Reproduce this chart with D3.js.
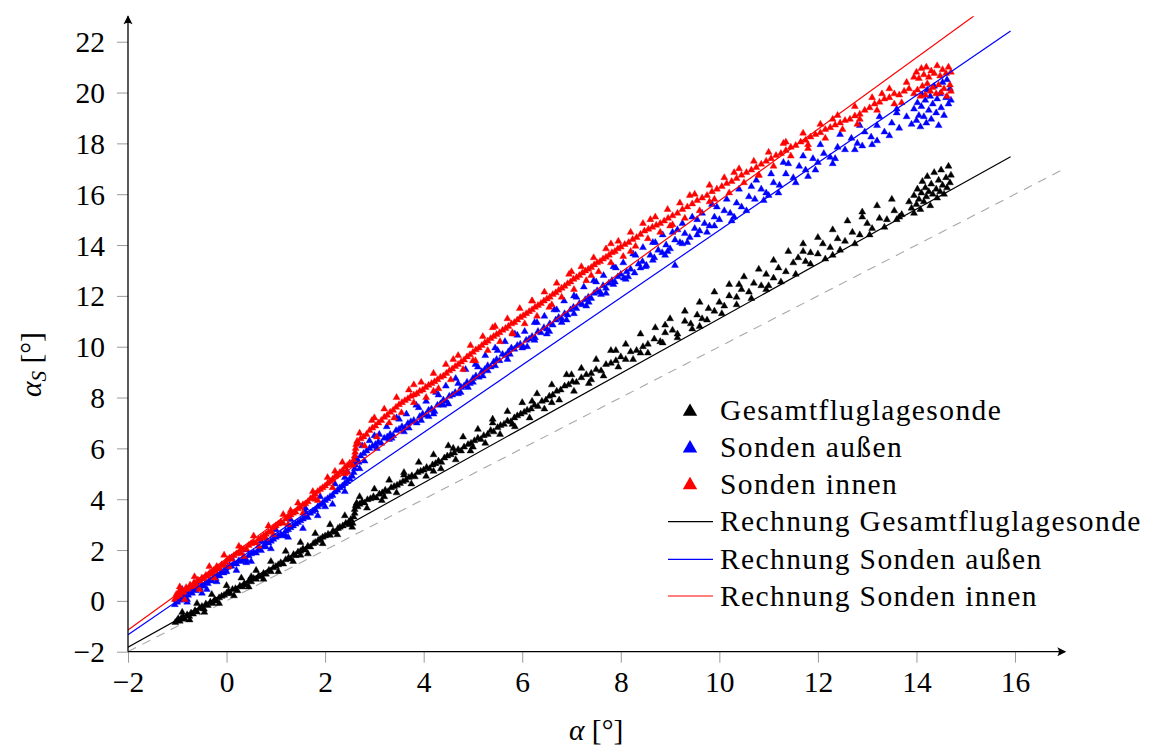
<!DOCTYPE html>
<html>
<head>
<meta charset="utf-8">
<script src="https://cdn.jsdelivr.net/npm/d3@7"></script>
<style>
  body { margin: 0; background: #fff; }
  text { font-family: "Liberation Serif", "DejaVu Serif", serif; }
</style>
</head>
<body>
<svg id="chart" width="1150" height="749"></svg>
<script>
   // ticks and labels
   const xTicks = [-2, 0, 2, 4, 6, 8, 10, 12, 14, 16];
   const yTicks = [-2, 0, 2, 4, 6, 8, 10, 12, 14, 16, 18, 20, 22];
   const legendLabels = ["Gesamtfluglagesonde", "Sonden außen", "Sonden innen",
      "Rechnung Gesamtfluglagesonde", "Rechnung Sonden außen", "Rechnung Sonden innen"];

   const gesamtPts = [
      [-1.04,-0.85],[-1.0,-0.78],[-0.98,-0.70],[-0.95,-0.80],[-0.92,-0.68],[-0.88,-0.62],[-0.85,-0.72],[-0.8,-0.55],
      [-0.76,-0.60],[-0.72,-0.48],[-0.68,-0.52],[-0.64,-0.38],[-0.6,-0.44],[-0.55,-0.30],[-0.5,-0.22],[-0.46,-0.32],
      [-0.42,-0.12],[-0.38,-0.18],[-0.33,-0.05],[-0.28,-0.10],[-0.24,0.05],[-0.2,0.0],[-0.15,0.12],[-0.1,0.18],
      [-0.05,0.22],[0.0,0.30],[0.04,0.38],[0.08,0.28],[0.12,0.45],[0.18,0.48],[0.22,0.40],[0.27,0.58],[0.32,0.55],
      [0.36,0.68],[0.4,0.62],[0.45,0.78],[0.5,0.75],[0.55,0.88],[0.6,0.85],[0.65,0.98],[0.7,0.95],[0.75,1.08],
      [0.8,1.05],[0.86,1.20],[0.9,1.15],[0.95,1.30],[1.0,1.35],[1.05,1.42],[1.1,1.50],[1.15,1.45],[1.2,1.62],
      [1.26,1.70],[1.3,1.65],[1.36,1.82],[1.4,1.78],[1.45,1.92],[1.5,1.95],[1.55,2.05],[1.6,2.0],[1.65,2.15],
      [1.7,2.12],[1.76,2.25],[1.8,2.30],[1.86,2.38],[1.9,2.42],[1.95,2.50],[2.0,2.55],[2.06,2.62],[2.1,2.58],
      [2.16,2.75],[2.2,2.70],[2.26,2.85],[2.3,2.90],[2.36,2.95],[2.42,3.05],[2.48,3.10],[2.52,3.20],[2.56,3.05],
      [2.58,3.30],[2.6,3.45],[2.6,3.60],[2.62,3.75],[2.64,3.85],[2.66,3.70],[2.7,3.80],[2.75,3.90],[2.8,3.85],
      [2.86,3.98],[2.92,4.02],[2.98,4.10],[3.04,4.05],[3.1,4.20],[3.16,4.25],[3.22,4.35],[3.28,4.30],[3.34,4.45],
      [3.4,4.50],[3.46,4.55],[3.52,4.62],[3.58,4.70],[3.64,4.75],[3.7,4.85],[3.76,4.92],[3.82,4.88],[3.88,5.05],
      [3.94,5.10],[4.0,5.15],[4.06,5.25],[4.12,5.20],[4.18,5.35],[4.24,5.40],[4.3,5.50],[4.36,5.45],[4.42,5.62],
      [4.48,5.70],[4.55,5.75],[4.62,5.82],[4.7,5.95],[4.76,5.90],[4.82,6.05],[4.9,6.15],[4.96,6.20],[5.03,6.30],
      [5.1,6.40],[5.16,6.35],[5.22,6.50],[5.3,6.55],[5.36,6.70],[5.42,6.65],[5.5,6.82],[5.56,6.90],[5.63,6.95],
      [5.7,7.08],[5.77,7.05],[5.84,7.20],[5.9,7.28],[5.97,7.35],[6.04,7.42],[6.1,7.50],[6.18,7.55],[6.25,7.70],
      [6.32,7.65],[6.4,7.85],[6.48,7.90],[6.55,8.05],[6.62,8.10],[6.7,8.25],[6.78,8.30],[6.86,8.45],[6.94,8.50],
      [7.02,8.62],[7.1,8.60],[7.2,8.78],[7.3,8.90],[7.4,8.95],[7.5,9.10],[7.6,9.05],[7.7,9.30],[7.8,9.35],
      [7.9,9.45],[8.0,9.60],[8.1,9.50],[8.2,9.80],[8.32,9.85],[8.45,10.0],[8.55,10.10],[8.68,10.30],[8.8,10.20],
      [8.9,10.55],[9.05,10.65],[9.15,10.50],[9.3,11.0],[9.42,10.90],[9.55,11.25],[9.65,11.10],[9.78,11.50],
      [9.9,11.40],[10.0,11.75],[10.1,11.60],[10.2,12.0],[10.35,11.95],[10.45,12.25],[10.6,12.15],[10.7,12.50],
      [10.85,12.40],[10.95,12.85],[11.1,12.70],[11.2,13.10],[11.35,12.95],[11.5,13.30],[11.6,13.50],[11.75,13.35],
      [11.85,13.70],[12.0,13.65],[12.1,14.05],[12.25,13.90],[12.4,14.25],[12.55,14.15],[12.7,14.50],[12.85,14.40],
      [13.0,14.85],[13.1,14.65],[13.25,15.05],[13.4,15.0],[13.55,15.35],[13.7,15.20],[13.85,15.70],[13.9,15.45],
      [13.95,15.95],[14.0,15.60],[14.02,16.20],[14.05,15.80],[14.08,15.40],[14.1,16.05],[14.12,16.50],[14.15,15.70],
      [14.18,16.25],[14.2,15.90],[14.22,16.70],[14.25,16.10],[14.28,15.55],[14.3,16.40],[14.33,16.0],[14.36,16.85],
      [14.4,16.20],[14.42,15.85],[14.45,16.55],[14.48,16.10],[14.5,16.95],[14.53,16.35],[14.56,16.0],[14.6,16.65],
      [14.62,16.25],[14.65,17.10],[14.68,16.45],[14.7,16.75],
      [0.5,0.95],[1.5,1.8],[2.5,3.0],[3.2,4.1],[3.6,4.95],[4.2,5.1],[4.6,6.0],[5.0,6.05],[5.4,7.0],[5.8,6.95],
      [6.2,7.85],[6.6,7.8],[7.0,8.9],[7.4,8.7],[7.9,9.85],[8.4,9.75],[8.9,10.85],[9.6,10.8],[10.4,12.45],
      [11.0,12.4],[11.7,13.75],[12.3,13.6],[12.9,15.1],[13.6,15.0],
      [-0.9,-0.45],[-0.6,-0.1],[-0.3,0.25],[0.0,0.6],[0.3,0.9],[0.6,1.2],[0.9,1.55],[1.2,1.95],[1.5,2.3],
      [1.8,2.65],[2.1,3.0],[2.4,3.35],[2.7,4.1],[3.0,4.4],[3.3,4.75],[3.6,5.05],[3.9,5.45],[4.2,5.75],[4.5,6.1],
      [4.8,6.45],[5.1,6.75],[5.4,7.15],[5.7,7.45],[6.0,7.8],[6.3,8.15],[6.6,8.5],[6.9,8.9],[7.2,9.15],[7.5,9.5],
      [7.8,9.85],[8.1,10.1],[8.4,10.5],[8.7,10.75],[9.0,11.1],[9.3,11.4],[9.6,11.75],[9.9,12.15],[10.2,12.45],
      [10.5,12.75],[10.8,13.05],[11.1,13.4],[11.4,13.75],[11.7,14.05],[12.0,14.3],[12.3,14.6],[12.6,14.95],
      [12.9,15.3],[13.2,15.55],[13.5,15.8],
      [-0.75,-0.75],[-0.45,-0.45],[-0.15,-0.1],[0.15,0.2],[0.45,0.55],[0.75,0.85],[1.05,1.15],[1.35,1.55],
      [1.65,1.85],[1.95,2.25],[2.25,2.6],[2.55,2.9],[2.85,3.65],[3.15,3.95],[3.45,4.25],[3.75,4.6],[4.05,4.9],
      [4.35,5.2],[4.65,5.55],[4.95,5.9],[5.25,6.2],[5.55,6.55],[5.85,6.85],[6.15,7.2],[6.45,7.55],[6.75,7.9],
      [7.05,8.25],[7.35,8.55],[7.65,8.85],[7.95,9.2],[8.25,9.5],[8.55,9.75],[8.85,10.15],[9.15,10.35],
      [9.45,10.7],[9.75,11.05],[10.05,11.3],[10.35,11.65],[10.65,11.9],[10.95,12.25],[11.25,12.55],[11.55,12.85],
      [11.85,13.25],[12.15,13.45],[12.45,13.8],[12.75,14.05],[13.05,14.4],[13.35,14.7],[13.65,15.1],[13.95,15.25]
   ];

   const aussenPts = [
      [-1.05,-0.15],[-1.02,0.05],[-1.0,-0.05],[-0.97,0.15],[-0.94,0.02],[-0.9,0.20],[-0.86,0.10],[-0.82,0.28],
      [-0.78,0.22],[-0.74,0.38],[-0.7,0.30],[-0.66,0.45],[-0.62,0.40],[-0.58,0.55],[-0.54,0.50],[-0.5,0.62],
      [-0.46,0.58],[-0.42,0.72],[-0.38,0.68],[-0.34,0.82],[-0.3,0.78],[-0.26,0.92],[-0.22,0.88],[-0.18,1.02],
      [-0.14,0.98],[-0.1,1.15],[-0.06,1.10],[-0.02,1.28],[0.02,1.32],[0.06,1.40],[0.1,1.36],[0.15,1.48],
      [0.2,1.45],[0.25,1.58],[0.3,1.55],[0.35,1.66],[0.4,1.62],[0.45,1.78],[0.5,1.85],[0.55,1.90],[0.6,1.88],
      [0.65,2.02],[0.7,1.98],[0.75,2.15],[0.8,2.12],[0.85,2.28],[0.9,2.35],[0.95,2.42],[1.0,2.50],[1.05,2.55],
      [1.1,2.62],[1.15,2.58],[1.2,2.75],[1.25,2.80],[1.3,2.88],[1.35,2.95],[1.4,3.02],[1.45,3.08],[1.5,3.15],
      [1.55,3.22],[1.6,3.30],[1.65,3.28],[1.7,3.45],[1.75,3.52],[1.8,3.58],[1.85,3.70],[1.9,3.78],[1.95,3.85],
      [2.0,3.95],[2.05,4.02],[2.1,4.10],[2.15,4.15],[2.2,4.28],[2.25,4.35],[2.3,4.45],[2.35,4.52],[2.4,4.62],
      [2.45,4.70],[2.5,4.80],[2.55,4.90],[2.58,5.05],[2.6,5.20],[2.61,5.35],[2.62,5.50],[2.64,5.60],[2.68,5.45],
      [2.72,5.70],[2.78,5.80],[2.84,5.90],[2.9,6.00],[2.96,6.08],[3.02,6.15],[3.08,6.25],[3.14,6.20],[3.2,6.40],
      [3.26,6.45],[3.32,6.55],[3.38,6.50],[3.44,6.70],[3.5,6.75],[3.56,6.85],[3.62,6.80],[3.68,6.98],[3.74,7.05],
      [3.8,7.10],[3.86,7.0],[3.92,7.25],[3.98,7.35],[4.04,7.30],[4.1,7.50],[4.16,7.55],[4.22,7.45],[4.28,7.70],
      [4.34,7.75],[4.4,7.90],[4.46,7.85],[4.52,8.05],[4.58,8.10],[4.64,8.20],[4.7,8.15],[4.76,8.40],[4.82,8.45],
      [4.88,8.60],[4.94,8.55],[5.0,8.75],[5.06,8.85],[5.12,8.80],[5.18,9.02],[5.24,9.10],[5.3,9.25],[5.36,9.20],
      [5.42,9.40],[5.48,9.50],[5.54,9.45],[5.6,9.70],[5.66,9.65],[5.72,9.80],[5.78,9.95],[5.84,9.90],[5.9,10.05],
      [5.96,10.10],[6.02,10.0],[6.08,10.25],[6.14,10.30],[6.2,10.40],[6.26,10.35],[6.32,10.60],[6.38,10.55],
      [6.44,10.75],[6.5,10.70],[6.56,10.90],[6.62,10.85],[6.68,11.05],[6.74,11.15],[6.8,11.10],[6.86,11.30],
      [6.92,11.25],[6.98,11.45],[7.04,11.55],[7.1,11.50],[7.16,11.70],[7.22,11.65],[7.28,11.85],[7.34,11.95],
      [7.4,11.90],[7.46,12.10],[7.52,12.20],[7.58,12.15],[7.64,12.40],[7.7,12.30],[7.76,12.50],[7.82,12.60],
      [7.88,12.55],[7.94,12.75],[8.0,12.85],[8.06,12.70],[8.12,12.95],[8.2,13.05],[8.28,12.90],[8.36,13.25],
      [8.44,13.35],[8.52,13.20],[8.6,13.60],[8.68,13.50],[8.76,13.80],[8.84,13.70],[8.92,14.0],[9.0,13.85],
      [9.1,14.20],[9.2,14.10],[9.3,14.45],[9.4,14.30],[9.5,14.65],[9.6,14.55],[9.7,14.85],[9.8,14.75],
      [9.9,15.10],[10.0,15.0],[10.1,15.35],[10.22,15.25],[10.35,15.65],[10.45,15.50],[10.6,15.90],[10.72,15.80],
      [10.85,16.20],[10.95,16.05],[11.1,16.45],[11.22,16.35],[11.35,16.80],[11.5,16.65],[11.62,17.10],[11.75,16.95],
      [11.9,17.40],[12.0,17.25],[12.12,17.60],[12.25,17.45],[12.4,17.85],[12.55,17.75],[12.68,18.20],[12.8,18.0],
      [12.95,18.45],[13.08,18.25],[13.2,18.70],[13.35,18.45],[13.5,18.80],[13.65,18.60],[13.8,19.05],[13.9,18.75],
      [13.95,19.35],[14.0,18.90],[14.02,19.60],[14.05,19.10],[14.08,18.65],[14.1,19.45],[14.12,19.90],[14.15,19.05],
      [14.18,19.70],[14.2,18.80],[14.22,20.10],[14.25,19.30],[14.28,19.85],[14.3,18.95],[14.33,19.55],[14.36,20.25],
      [14.4,19.20],[14.42,19.75],[14.45,18.70],[14.48,19.95],[14.5,19.40],[14.53,20.40],[14.56,19.10],[14.6,19.80],
      [14.62,20.50],[14.65,19.55],[14.68,20.15],[14.7,19.70],
      [3.1,6.55],[3.3,6.35],[3.5,7.15],[3.7,6.8],[3.9,7.6],[4.1,7.25],[4.3,8.1],[4.5,7.75],[4.7,8.55],[4.9,8.4],
      [5.1,9.2],[5.3,9.05],[5.5,9.85],[5.7,9.5],[5.9,10.45],[6.1,10.0],[6.3,10.95],[6.5,10.5],[6.7,11.45],
      [6.9,11.05],[7.1,11.95],[7.3,11.6],[7.5,12.55],[7.7,12.1],[7.9,13.1],[8.1,12.65],[8.3,13.6],[8.5,13.15],
      [8.7,14.1],[8.9,13.6],[9.15,14.6],[9.35,14.1],[9.55,15.0],[9.75,14.5],[9.95,15.5],[10.3,15.1],
      [10.65,16.3],[11.0,15.95],[11.4,17.2],[11.8,16.7],[12.3,17.2],[12.9,17.9],[13.2,18.1],[13.6,19.2],
      [-0.8,0.05],[-0.4,0.45],[0.0,1.15],[0.4,1.5],[0.8,2.3],[1.2,2.55],[1.6,3.5],[2.0,3.7],[2.4,4.85],
      [2.7,5.2],[2.9,6.3],
      [-0.9,0.45],[-0.6,0.75],[-0.3,1.1],[0.1,1.7],[0.4,2.0],[0.7,2.35],[1.0,2.8],[1.3,3.2],[1.6,3.65],
      [1.9,4.1],[2.2,4.6],[2.45,5.1],[2.75,6.1],[3.0,6.5],[3.25,6.85],[3.45,7.2],[3.65,7.35],[3.85,7.7],
      [4.05,7.85],[4.25,8.2],[4.45,8.45],[4.65,8.75],[4.85,9.1],[5.05,9.3],[5.25,9.65],[5.45,9.95],[5.65,10.2],
      [5.85,10.5],[6.05,10.6],[6.25,10.95],[6.45,11.2],[6.65,11.45],[6.85,11.8],[7.05,12.0],[7.25,12.35],
      [7.45,12.6],[7.65,12.8],[7.85,13.15],[8.05,13.3],[8.25,13.65],[8.45,13.9],[8.65,14.1],[8.85,14.4],
      [9.05,14.5],[9.25,14.85],[9.45,15.1],[9.65,15.25],[9.85,15.6],[10.15,15.8],[10.4,16.2],[10.75,16.55],
      [11.05,16.8],[11.3,17.25],[11.7,17.5],[12.05,17.95],[12.45,18.35],[12.85,18.7],[13.25,19.05],[13.6,19.35],
      [-0.8,-0.05],[-0.5,0.3],[-0.2,0.75],[0.2,1.2],[0.5,1.55],[0.9,2.05],[1.25,2.5],[1.55,2.85],[1.85,3.35],
      [2.15,3.8],[2.4,4.3],[2.8,5.5],[3.05,6.0],[3.35,6.4],[3.6,6.65],[3.95,7.1],[4.2,7.35],[4.4,7.7],
      [4.75,8.2],[5.0,8.6],[5.2,8.85],[5.45,9.25],[5.75,9.7],[6.0,9.95],[6.25,10.25],[6.55,10.6],[6.8,10.95],
      [7.05,11.3],[7.35,11.75],[7.6,12.05],[7.85,12.45],[8.15,12.75],[8.4,13.1],[8.65,13.4],[8.95,13.75],
      [9.25,14.05],[9.55,14.4],[9.9,14.75],[10.25,14.95],[10.55,15.35],[10.9,15.75],[11.2,16.05],[11.55,16.45],
      [11.95,16.95],[12.35,17.4],[12.75,17.75],[13.1,17.95],[13.45,18.3],[9.1,13.2]
   ];

   const innenPts = [
      [-1.05,0.05],[-1.02,0.25],[-1.0,0.15],[-0.97,0.35],[-0.94,0.22],[-0.9,0.42],[-0.86,0.32],[-0.82,0.52],
      [-0.78,0.45],[-0.74,0.62],[-0.7,0.55],[-0.66,0.72],[-0.62,0.66],[-0.58,0.82],[-0.54,0.78],[-0.5,0.90],
      [-0.46,0.86],[-0.42,1.0],[-0.38,0.96],[-0.34,1.10],[-0.3,1.05],[-0.26,1.20],[-0.22,1.15],[-0.18,1.30],
      [-0.14,1.25],[-0.1,1.42],[-0.06,1.38],[-0.02,1.52],[0.02,1.62],[0.06,1.68],[0.1,1.64],[0.15,1.78],
      [0.2,1.85],[0.25,1.90],[0.3,1.86],[0.35,2.02],[0.4,2.05],[0.45,2.18],[0.5,2.25],[0.55,2.30],[0.6,2.28],
      [0.65,2.42],[0.7,2.48],[0.75,2.55],[0.8,2.62],[0.85,2.70],[0.9,2.75],[0.95,2.88],[1.0,2.95],[1.05,3.02],
      [1.1,3.10],[1.15,3.05],[1.2,3.22],[1.25,3.30],[1.3,3.38],[1.35,3.45],[1.4,3.50],[1.45,3.62],[1.5,3.68],
      [1.55,3.78],[1.6,3.82],[1.65,3.90],[1.7,4.02],[1.75,4.08],[1.8,4.20],[1.85,4.30],[1.9,4.38],[1.95,4.45],
      [2.0,4.52],[2.05,4.62],[2.1,4.70],[2.15,4.78],[2.2,4.88],[2.25,4.95],[2.3,5.05],[2.35,5.12],[2.4,5.25],
      [2.45,5.32],[2.5,5.42],[2.55,5.35],[2.58,5.55],[2.6,5.70],[2.61,5.85],[2.62,6.0],[2.63,6.15],[2.65,6.28],
      [2.68,6.20],[2.72,6.38],[2.78,6.45],[2.84,6.55],[2.9,6.70],[2.96,6.80],[3.02,6.88],[3.08,7.0],[3.14,7.10],
      [3.2,7.22],[3.26,7.30],[3.32,7.42],[3.38,7.50],[3.44,7.62],[3.5,7.72],[3.56,7.80],[3.62,7.88],[3.68,7.95],
      [3.74,8.05],[3.8,8.10],[3.86,8.15],[3.92,8.25],[3.98,8.30],[4.04,8.40],[4.1,8.48],[4.16,8.55],[4.22,8.62],
      [4.28,8.70],[4.34,8.80],[4.4,8.85],[4.46,8.95],[4.52,9.05],[4.58,9.12],[4.64,9.22],[4.7,9.30],[4.76,9.40],
      [4.82,9.48],[4.88,9.60],[4.94,9.68],[5.0,9.78],[5.06,9.88],[5.12,9.95],[5.18,10.05],[5.24,10.15],[5.3,10.22],
      [5.36,10.32],[5.42,10.40],[5.48,10.48],[5.54,10.55],[5.6,10.65],[5.66,10.72],[5.72,10.80],[5.78,10.90],
      [5.84,10.95],[5.9,11.05],[5.96,11.15],[6.02,11.22],[6.08,11.30],[6.14,11.38],[6.2,11.45],[6.26,11.55],
      [6.32,11.62],[6.38,11.70],[6.44,11.80],[6.5,11.88],[6.56,11.95],[6.62,12.05],[6.68,12.12],[6.74,12.22],
      [6.8,12.30],[6.86,12.38],[6.92,12.48],[6.98,12.55],[7.04,12.65],[7.1,12.72],[7.16,12.80],[7.22,12.90],
      [7.28,12.98],[7.34,13.05],[7.4,13.12],[7.46,13.22],[7.52,13.30],[7.58,13.35],[7.64,13.45],[7.7,13.52],
      [7.76,13.60],[7.82,13.70],[7.88,13.75],[7.94,13.85],[8.0,13.92],[8.08,14.02],[8.16,14.10],[8.24,14.22],
      [8.32,14.30],[8.4,14.42],[8.48,14.55],[8.56,14.62],[8.64,14.70],[8.72,14.78],[8.8,14.85],[8.88,14.95],
      [8.96,15.05],[9.05,15.15],[9.15,15.25],[9.25,15.40],[9.35,15.50],[9.45,15.62],[9.55,15.75],[9.65,15.85],
      [9.75,15.95],[9.85,16.10],[9.95,16.20],[10.05,16.30],[10.15,16.42],[10.25,16.50],[10.35,16.62],[10.45,16.75],
      [10.55,16.85],[10.65,16.95],[10.75,17.05],[10.85,17.18],[10.95,17.30],[11.05,17.40],[11.15,17.52],[11.25,17.60],
      [11.35,17.72],[11.45,17.85],[11.55,17.92],[11.65,18.05],[11.75,18.12],[11.85,18.25],[11.95,18.35],[12.05,18.42],
      [12.15,18.55],[12.25,18.62],[12.35,18.72],[12.45,18.80],[12.55,18.90],[12.65,18.95],[12.75,19.08],[12.85,19.15],
      [12.95,19.30],[13.05,19.40],[13.15,19.55],[13.25,19.62],[13.35,19.75],[13.45,19.80],[13.55,19.95],[13.65,19.90],
      [13.75,20.05],[13.85,20.15],[13.95,20.60],[13.95,19.95],[14.0,20.80],[14.02,20.10],[14.05,20.55],[14.08,19.85],
      [14.1,20.95],[14.12,20.25],[14.15,20.70],[14.18,19.90],[14.2,21.0],[14.22,20.35],[14.25,20.60],[14.28,20.05],
      [14.3,20.85],[14.33,20.20],[14.36,20.75],[14.4,19.95],[14.42,21.05],[14.45,20.30],[14.48,20.65],[14.5,20.0],
      [14.53,20.90],[14.56,20.15],[14.6,20.75],[14.62,19.85],[14.65,21.0],[14.68,20.30],[14.7,20.80],[14.7,20.05],
      [3.0,7.2],[3.4,7.2],[3.8,8.5],[4.2,8.25],[4.6,9.5],[5.0,9.45],[5.4,10.75],[5.8,10.55],[6.2,11.8],
      [6.6,11.65],[7.0,12.95],[7.4,12.8],[7.8,14.05],[8.2,13.75],[8.6,15.0],[9.0,14.75],[9.4,15.95],[9.8,15.7],
      [10.3,16.85],[10.8,16.75],[11.3,18.0],[11.8,17.8],[12.3,18.95],[12.8,18.75],[13.3,19.95],[13.7,19.6],
      [-0.6,0.55],[-0.2,1.35],[0.3,2.05],[0.8,2.45],[1.3,3.55],[1.8,4.0],[2.2,5.1],[2.4,5.0],
      [-0.95,0.55],[-0.65,0.95],[-0.35,1.35],[-0.05,1.8],[0.25,2.15],[0.55,2.55],[0.85,2.95],[1.15,3.4],
      [1.45,3.85],[1.75,4.3],[2.05,4.85],[2.35,5.45],[2.7,6.6],[2.95,7.1],[3.2,7.55],[3.45,8.0],[3.7,8.3],
      [3.95,8.6],[4.2,8.95],[4.45,9.3],[4.7,9.65],[4.95,10.05],[5.2,10.4],[5.45,10.8],[5.7,11.1],[5.95,11.5],
      [6.2,11.8],[6.45,12.15],[6.7,12.5],[6.95,12.85],[7.2,13.15],[7.45,13.5],[7.7,13.85],[7.95,14.15],
      [8.2,14.5],[8.45,14.85],[8.7,15.1],[8.95,15.4],[9.2,15.65],[9.5,16.0],[9.8,16.35],[10.1,16.65],
      [10.4,17.0],[10.7,17.3],[11.0,17.65],[11.35,18.05],[11.7,18.4],[12.05,18.75],[12.4,19.1],[12.75,19.45],
      [13.1,19.8],[13.45,20.15],[13.8,20.4],
      [-0.85,0.05],[-0.55,0.45],[-0.25,0.9],[0.05,1.35],[0.35,1.75],[0.65,2.15],[0.95,2.6],[1.25,3.0],
      [1.55,3.45],[1.85,3.95],[2.15,4.45],[2.45,5.05],[2.8,6.1],[3.05,6.45],[3.3,7.0],[3.55,7.4],[3.8,7.8],
      [4.05,8.0],[4.3,8.35],[4.55,8.7],[4.8,9.1],[5.05,9.45],[5.3,9.85],[5.55,10.2],[5.8,10.5],[6.05,10.9],
      [6.3,11.2],[6.55,11.55],[6.8,11.95],[7.05,12.25],[7.3,12.6],[7.55,12.95],[7.8,13.3],[8.05,13.55],
      [8.3,13.95],[8.55,14.25],[8.8,14.5],[9.05,14.8],[9.3,15.05],[9.6,15.35],[9.9,15.8],[10.2,16.05],
      [10.5,16.45],[10.8,16.75],[11.1,17.1],[11.45,17.5],[11.8,17.95],[12.15,18.2],[12.5,18.55],[12.85,18.95],
      [13.2,19.3],[13.55,19.55]
   ];

   // calculated lines (end points)
   const calcGesamt = [[-2, -1.82], [15.91, 17.47]];
   const calcAussen = [[-2, -1.33], [15.91, 22.42]];
   const calcInnen  = [[-2, -1.15], [15.17, 23.02]];
   const identityLine = [[-2, -2], [17, 17]];

   const svg = d3.select("#chart");
   const fontSize = 29.5;

   const x = d3.scaleLinear().domain([-2, 17]).range([128, 1064.3]);
   const y = d3.scaleLinear().domain([-2, 23]).range([651.7, 16.3]);

   svg.append("clipPath").attr("id", "plotclip")
      .append("rect")
      .attr("x", x(-2)).attr("y", y(23))
      .attr("width", x(17) - x(-2)).attr("height", y(-2) - y(23));

   // axes
   const fmt = d => d < 0 ? "\u2212" + Math.abs(d) : String(d);

   const xAxis = svg.append("g")
      .attr("transform", "translate(0," + y(-2) + ")")
      .call(d3.axisBottom(x).tickValues(xTicks).tickSize(11).tickFormat(fmt));
   xAxis.select(".domain").remove();
   xAxis.selectAll(".tick line").attr("stroke", "#9a9a9a").attr("stroke-width", 1);
   xAxis.selectAll(".tick text")
      .attr("y", 40).attr("dy", null)
      .attr("font-size", fontSize).attr("fill", "#000")
      .style("font-family", "'Liberation Serif', serif");

   const yAxis = svg.append("g")
      .attr("transform", "translate(" + x(-2) + ",0)")
      .call(d3.axisLeft(y).tickValues(yTicks).tickSize(11).tickFormat(fmt));
   yAxis.select(".domain").remove();
   yAxis.selectAll(".tick line").attr("stroke", "#9a9a9a").attr("stroke-width", 1);
   yAxis.selectAll(".tick text")
      .attr("x", -23).attr("dy", "0.34em")
      .attr("font-size", fontSize).attr("fill", "#000")
      .style("font-family", "'Liberation Serif', serif");

   // plot content
   const plot = svg.append("g").attr("clip-path", "url(#plotclip)");

   const line = d3.line().x(d => x(d[0])).y(d => y(d[1]));

   plot.append("path").datum(identityLine)
      .attr("d", line).attr("fill", "none")
      .attr("stroke", "#a8a8a8").attr("stroke-width", 1.1)
      .attr("stroke-dasharray", "9,7");

   const triangle = d3.symbol().type(d3.symbolTriangle).size(21);

   function addScatter(pts, color) {
      plot.append("g")
         .selectAll("path")
         .data(pts)
         .enter()
         .append("path")
         .attr("d", triangle)
         .attr("transform", d => "translate(" + x(d[0]) + "," + y(d[1]) + ")")
         .attr("fill", color)
         .attr("stroke", color)
         .attr("stroke-width", 0.4);
   }

   addScatter(gesamtPts, "#000000");
   addScatter(aussenPts, "#0000ff");
   addScatter(innenPts, "#ff0000");

   function addCalcLine(pts, color) {
      plot.append("path").datum(pts)
         .attr("d", line).attr("fill", "none")
         .attr("stroke", color).attr("stroke-width", 1.2);
   }
   addCalcLine(calcGesamt, "#000000");
   addCalcLine(calcAussen, "#0000ff");
   addCalcLine(calcInnen, "#ff0000");

   // axis lines with arrow tips
   svg.append("line")
      .attr("x1", x(-2)).attr("y1", y(-2)).attr("x2", x(17)).attr("y2", y(-2))
      .attr("stroke", "#000").attr("stroke-width", 1.3);
   svg.append("line")
      .attr("x1", x(-2)).attr("y1", y(-2)).attr("x2", x(-2)).attr("y2", y(23))
      .attr("stroke", "#000").attr("stroke-width", 1.3);

   const xe = x(17) + 2, ye = y(-2);
   svg.append("path")
      .attr("d", `M${xe},${ye} L${xe - 9},${ye - 4.5} Q${xe - 6},${ye} ${xe - 9},${ye + 4.5} Z`)
      .attr("fill", "#000");
   const xt = x(-2), yt = y(23) - 1;
   svg.append("path")
      .attr("d", `M${xt},${yt} L${xt - 4.5},${yt + 9} Q${xt},${yt + 6} ${xt + 4.5},${yt + 9} Z`)
      .attr("fill", "#000");

   // axis labels
   const xLabel = svg.append("text")
      .attr("x", x(7.5)).attr("y", 740)
      .attr("text-anchor", "middle")
      .attr("font-size", fontSize);
   xLabel.append("tspan").attr("font-style", "italic").text("α");
   xLabel.append("tspan").text(" [°]");

   const yLabel = svg.append("text")
      .attr("transform", "translate(41," + y(9.3) + ") rotate(-90)")
      .attr("text-anchor", "middle")
      .attr("font-size", fontSize);
   yLabel.append("tspan").attr("font-style", "italic").text("α");
   yLabel.append("tspan").attr("font-style", "italic").attr("font-size", 21)
      .attr("dy", 5).text("S");
   yLabel.append("tspan").attr("dy", -5).text(" [°]");

   // legend
   const legendColors = ["#000000", "#0000ff", "#ff0000", "#000000", "#0000ff", "#ff0000"];
   const legendRowY = [410.7, 447.3, 484, 521.7, 559.3, 596];
   const legend = svg.append("g");

   legendLabels.forEach((label, i) => {
      const cy = legendRowY[i];
      if (i < 3) {
         legend.append("path")
            .attr("d", d3.symbol().type(d3.symbolTriangle).size(90)())
            .attr("transform", "translate(690," + (cy + 1) + ")")
            .attr("fill", legendColors[i]);
      } else {
         legend.append("line")
            .attr("x1", 668).attr("x2", 713)
            .attr("y1", cy).attr("y2", cy)
            .attr("stroke", legendColors[i]).attr("stroke-width", 1.2);
      }
      legend.append("text")
         .attr("x", 720).attr("y", cy + 9.5)
         .attr("font-size", fontSize)
         .attr("letter-spacing", 1.4)
         .text(label);
   });
</script>
</body>
</html>
